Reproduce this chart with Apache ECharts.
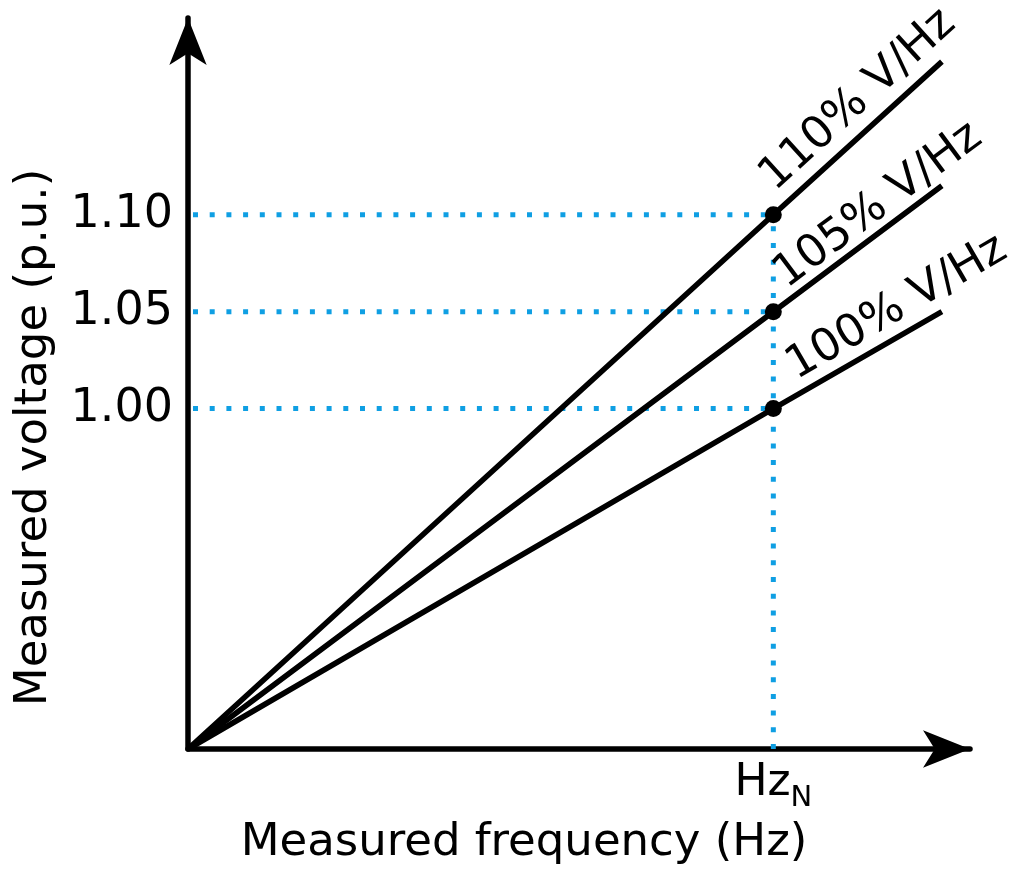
<!DOCTYPE html>
<html><head><meta charset="utf-8">
<script src="https://cdn.jsdelivr.net/npm/echarts@6/dist/echarts.min.js"></script>
<style>html,body{margin:0;padding:0;background:#fff}#c{width:1011px;height:869px}</style>
</head><body><div id="c"></div>
<script>
// ---- data ----
const ratioNames = ['110% V/Hz', '105% V/Hz', '100% V/Hz'];
const freqPoints = [0, 1, 1.288];           // origin, Hz_N, end of drawn line (in units of Hz_N)
const voltage110 = [0.8244, 1.10, 1.179];
const voltage105 = [0.8244, 1.05, 1.115];
const voltage100 = [0.8244, 1.00, 1.050];
const ratedVoltages = [1.10, 1.05, 1.00];    // voltage at Hz_N
const yTickValues = [1.00, 1.05, 1.10];
const xTickValues = [1];
const xTickName = 'Hz';
const xTickSub = 'N';
const yAxisTitle = 'Measured voltage (p.u.)';
const xAxisTitle = 'Measured frequency (Hz)';

// ---- layout / style ----
const Y_MIN = 0.8244, Y_MAX = 1.2015, X_MIN = 0, X_MAX = 1.336;
const FONT = 'DejaVu Sans';
const BLUE = '#0f9fe3';
const labelRotate = [42.3, 36.7, 30.1];
const labelOffset = [[-88, -28], [-63, -22], [-37, -26]];

const voltageSets = [voltage110, voltage105, voltage100];
const series = [];

// dotted guide lines
ratedVoltages.forEach(v => {
  series.push({
    type: 'line', data: [[X_MIN, v], [xTickValues[0], v]], symbol: 'none', silent: true, z: 1,
    lineStyle: { color: BLUE, width: 5, type: [5, 11.7], dashOffset: -5 }
  });
});
series.push({
  type: 'line', data: [[xTickValues[0], Y_MIN], [xTickValues[0], Math.max(...ratedVoltages)]],
  symbol: 'none', silent: true, z: 1,
  lineStyle: { color: BLUE, width: 5, type: [5, 11.7] }
});

// black V/Hz lines
voltageSets.forEach((vs, i) => {
  series.push({
    type: 'line', name: ratioNames[i], data: freqPoints.map((f, k) => [f, vs[k]]),
    symbol: 'none', z: 3, lineStyle: { color: '#000', width: 5.5 }
  });
});

// dots at Hz_N
series.push({
  type: 'scatter', z: 4, symbolSize: 17, itemStyle: { color: '#000', opacity: 1 },
  data: ratedVoltages.map(v => [xTickValues[0], v])
});

// rotated line labels, anchored at the end of each line
voltageSets.forEach((vs, i) => {
  series.push({
    type: 'scatter', z: 5, symbolSize: 1, itemStyle: { color: 'rgba(0,0,0,0)', opacity: 1 }, silent: true,
    data: [[freqPoints[2], vs[2]]],
    label: {
      show: true, position: 'inside', formatter: ratioNames[i], rotate: labelRotate[i],
      offset: labelOffset[i], align: 'center', verticalAlign: 'middle', opacity: 1,
      color: '#000', fontFamily: FONT, fontSize: 45
    }
  });
});

const chart = echarts.init(document.getElementById('c'), null, { renderer: 'canvas' });
chart.setOption({
  animation: false,
  backgroundColor: '#fff',
  grid: { left: 188, right: 41, top: 18, bottom: 120, containLabel: false, outerBoundsMode: 'none' },
  xAxis: {
    type: 'value', min: X_MIN, max: X_MAX,
    name: xAxisTitle, nameLocation: 'middle', nameGap: 72, nameMoveOverlap: false,
    nameTextStyle: { fontFamily: FONT, fontSize: 45, color: '#000', padding: [0, 110, 0, 0] },
    axisLine: { show: true, onZero: false, symbol: ['none', 'arrow'], symbolSize: [28, 47],
      lineStyle: { color: '#000', width: 5.5 } },
    axisTick: { show: false },
    splitLine: { show: false },
    axisLabel: {
      customValues: xTickValues, margin: 5,
      formatter: () => '{a|' + xTickName + '}{b|' + xTickSub + '}',
      rich: {
        a: { fontFamily: FONT, fontSize: 44, color: '#000' },
        b: { fontFamily: FONT, fontSize: 29, color: '#000', padding: [30, 0, 0, 0] }
      }
    }
  },
  yAxis: {
    type: 'value', min: Y_MIN, max: Y_MAX,
    name: yAxisTitle, nameLocation: 'middle', nameGap: 131, nameMoveOverlap: false,
    nameTextStyle: { fontFamily: FONT, fontSize: 45, color: '#000', padding: [0, 108, 0, 0] },
    axisLine: { show: true, onZero: false, symbol: ['none', 'arrow'], symbolSize: [28, 47],
      lineStyle: { color: '#000', width: 5.5 } },
    axisTick: { show: false },
    splitLine: { show: false },
    axisLabel: {
      customValues: yTickValues, margin: 15,
      formatter: v => v.toFixed(2),
      fontFamily: FONT, fontSize: 46, color: '#000'
    }
  },
  series: series
});
</script>
</body></html>
